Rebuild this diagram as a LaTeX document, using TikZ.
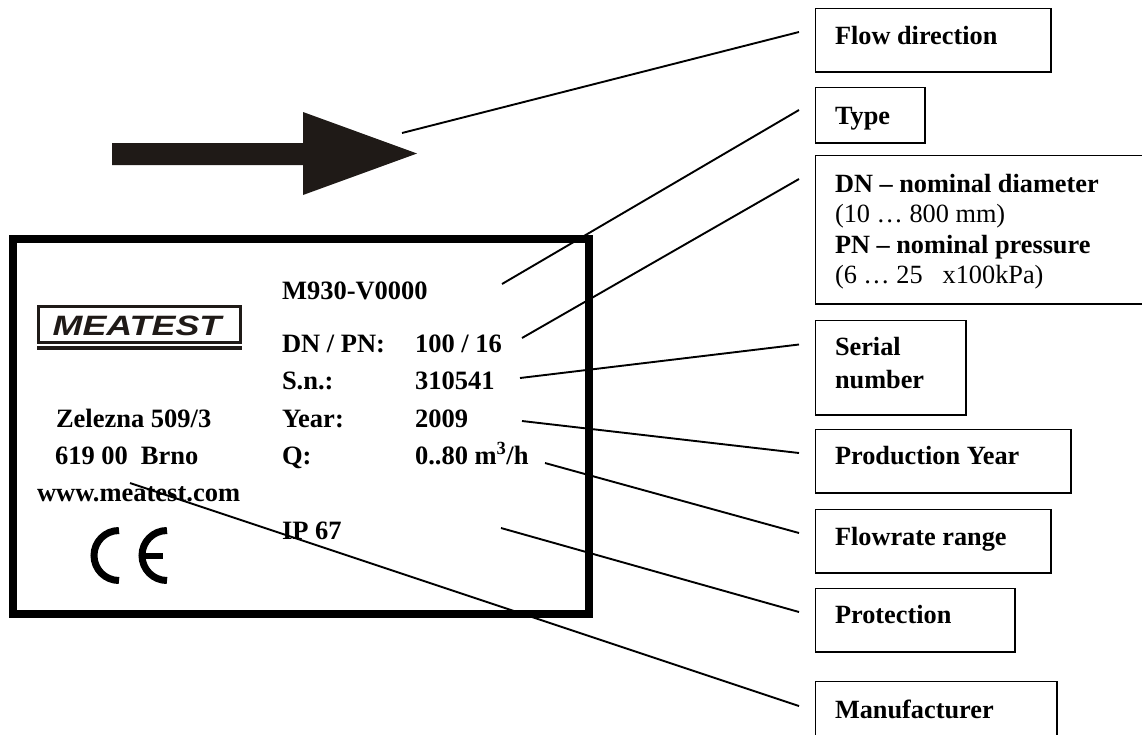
\documentclass[tikz,border=0pt]{standalone}
\usepackage{fontspec}
\setmainfont{Liberation Serif}
\newfontfamily\logofont{Liberation Sans}
\definecolor{inkc}{HTML}{1F1A17}
\tikzset{
  box/.style={draw=black,line width=1.9pt,fill=none,inner sep=0pt,outer sep=0pt,anchor=north west},
  lbl/.style={inner sep=0pt,outer sep=0pt,anchor=base west,font=\fontsize{26.3}{30.5}\selectfont\bfseries,align=left},
  plate/.style={inner sep=0pt,outer sep=0pt,anchor=base west,font=\fontsize{26.5}{30}\selectfont\bfseries},
  conn/.style={draw=black,line width=1.9pt},
  ink/.style={fill=inkc}
}
\begin{document}
\begin{tikzpicture}[x=1pt,y=-1pt]
\useasboundingbox (0,0) rectangle (1142,734);
% plate
\draw[line width=8pt,miter limit=10] (13,239) rectangle (589,614);
% logo
\draw[inkc,line width=3pt] (38.5,306.5) rectangle (240.5,342.5);
\fill[inkc] (37,346) rectangle (242,350);
\node[inner sep=0pt,outer sep=0pt,anchor=base,transform shape,xscale=1.28,text=inkc,font=\fontsize{28}{28}\selectfont\logofont\bfseries\itshape] (logo) at (137,335) {MEATEST};
% CE mark
\draw[line width=7pt] (119,530.5) arc[start angle=270,end angle=90,radius=25];
\draw[line width=7pt] (167,530.5) arc[start angle=270,end angle=90,radius=25];
\fill (143,552.5) rectangle (162.5,558.5);
% big arrow
\fill[ink] (112,143) -- (303,143) -- (303,112) -- (417,153.5) -- (303,195) -- (303,165) -- (112,165) -- cycle;
% plate texts
\node[plate] (type) at (282,299) {M930-V0000};
\node[plate] (dnk) at (282,352) {DN / PN:};
\node[plate] (dnv) at (415,352) {100 / 16};
\node[plate] (snk) at (282,389) {S.n.:};
\node[plate] (snv) at (415,389) {310541};
\node[plate] (yrk) at (282,427) {Year:};
\node[plate] (yrv) at (415,427) {2009};
\node[plate] (qk) at (282,464) {Q:};
\node[plate] (qv) at (415,464) {0..80 m\textsuperscript{3}/h};
\node[plate] (ip) at (282,539) {IP 67};
\node[plate] (addr1) at (56,427) {Zelezna 509/3};
\node[plate] (addr2) at (55,464) {619 00\hspace{13pt}Brno};
\node[plate] (web) at (37,501) {www.meatest.com};
% callout boxes
\node[box,minimum width=235.5pt,minimum height=63.5pt] (bflow) at (815.5,8.5) {};
\node[box,minimum width=109.5pt,minimum height=55.5pt] (btype) at (815.5,87.5) {};
\node[box,minimum width=334pt,minimum height=148.5pt] (bdn) at (815.5,155.5) {};
\node[box,minimum width=150.5pt,minimum height=94.5pt] (bserial) at (815.5,320.5) {};
\node[box,minimum width=255.5pt,minimum height=63.5pt] (byear) at (815.5,429.5) {};
\node[box,minimum width=235.5pt,minimum height=63.5pt] (brange) at (815.5,509.5) {};
\node[box,minimum width=199.5pt,minimum height=63.5pt] (bprot) at (815.5,588.5) {};
\node[box,minimum width=241.5pt,minimum height=70pt] (bmanu) at (815.5,681.5) {};
% callout labels
\node[lbl] (tflow) at (835,44) {Flow direction};
\node[lbl] (ttype) at (835,124) {Type};
\node[lbl] (tdn1) at (835,192) {DN – nominal diameter};
\node[lbl,font=\fontsize{26.3}{30.5}\selectfont] (tdn2) at (835,222) {(10 … 800 mm)};
\node[lbl] (tdn3) at (835,253) {PN – nominal pressure};
\node[lbl,font=\fontsize{26.3}{30.5}\selectfont] (tdn4) at (835,283) {(6 … 25\hspace{20pt}x100kPa)};
\node[lbl] (tser1) at (835,355) {Serial};
\node[lbl] (tser2) at (835,388) {number};
\node[lbl] (tyear) at (835,464) {Production Year};
\node[lbl] (trange) at (835,545) {Flowrate range};
\node[lbl] (tprot) at (835,623) {Protection};
\node[lbl] (tmanu) at (835,718) {Manufacturer};
% connector ends
\coordinate (a1) at (402,133); \coordinate (e1) at (799,32);
\coordinate (a2) at (502,284); \coordinate (e2) at (799,110);
\coordinate (a3) at (522,338); \coordinate (e3) at (799,179);
\coordinate (a4) at (520,378); \coordinate (e4) at (799,344.5);
\coordinate (a5) at (522,421); \coordinate (e5) at (799,453);
\coordinate (a6) at (545,463); \coordinate (e6) at (799,533);
\coordinate (a7) at (501,528); \coordinate (e7) at (799,612);
\coordinate (a8) at (130,483); \coordinate (e8) at (799,706);
\foreach \i in {1,...,8}{\draw[conn] (a\i) -- (e\i);}
\end{tikzpicture}
\end{document}
